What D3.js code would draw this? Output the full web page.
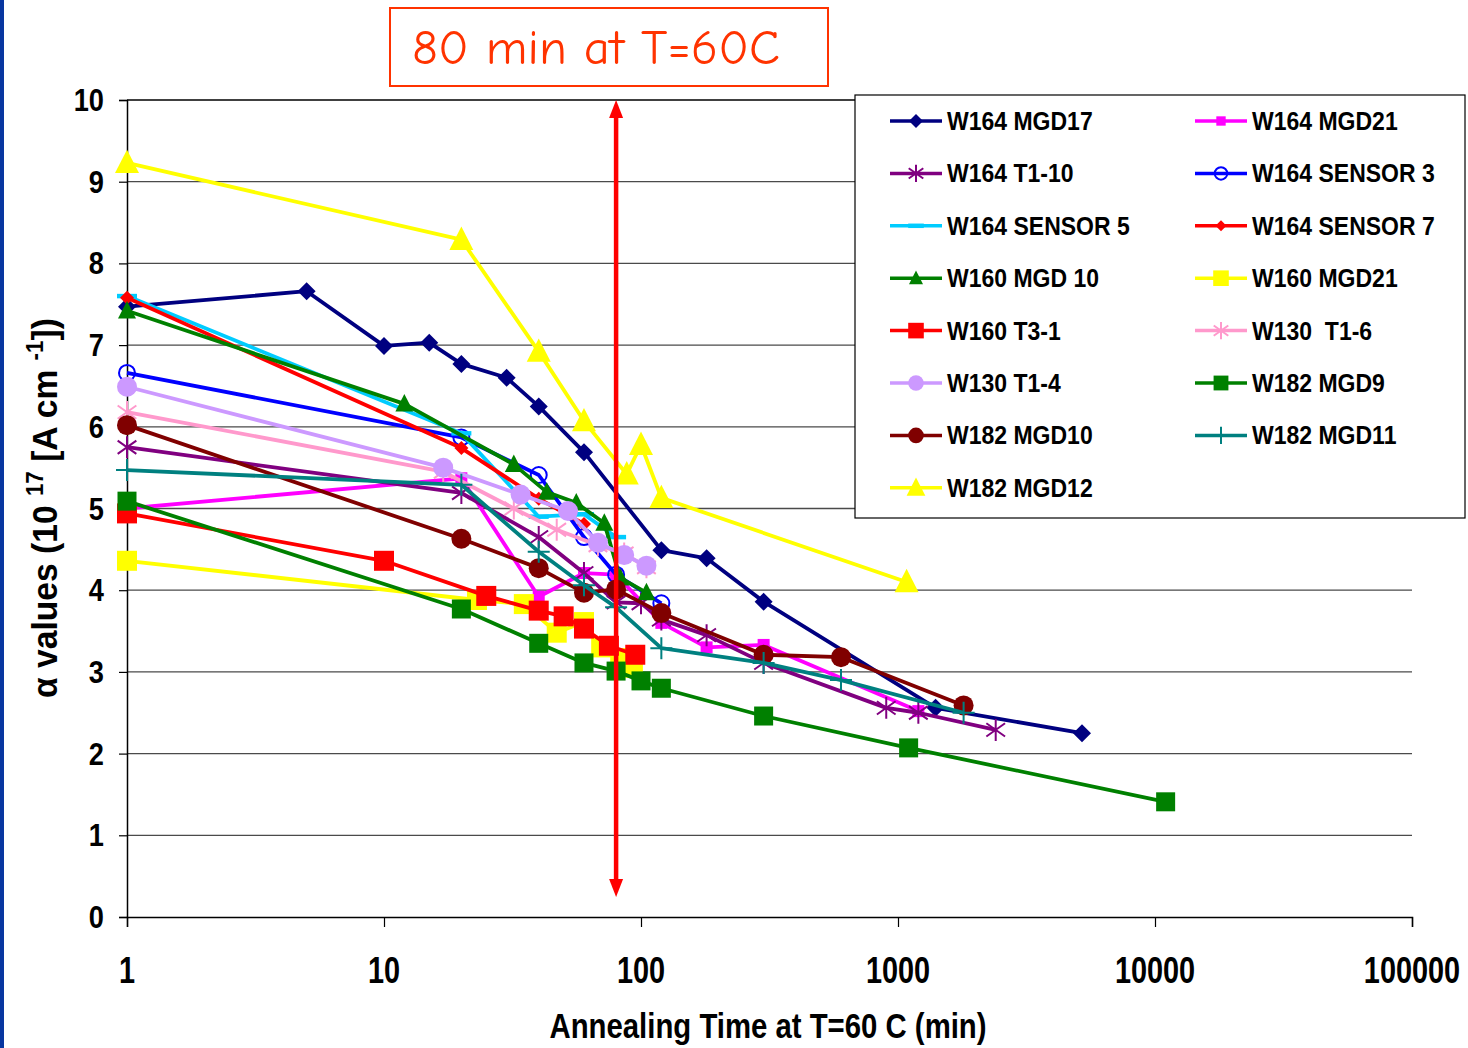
<!DOCTYPE html>
<html>
<head>
<meta charset="utf-8">
<script src="https://cdn.jsdelivr.net/npm/d3@7"></script>
<style>
  html, body { margin: 0; padding: 0; background: #fff; }
  svg { display: block; }
  text { white-space: pre; }
</style>
</head>
<body>
<svg id="chart" width="1468" height="1048"></svg>
<script>
// ---- annealing data: time (min) and alpha (1e-17 A/cm) per device ----
const seriesNames = [
  "W164 MGD17", "W164 MGD21", "W164 T1-10", "W164 SENSOR 3", "W164 SENSOR 5",
  "W164 SENSOR 7", "W160 MGD 10", "W160 MGD21", "W160 T3-1", "W130  T1-6",
  "W130 T1-4", "W182 MGD9", "W182 MGD10", "W182 MGD11", "W182 MGD12"
];

const w164mgd17Time  = [1, 5, 10, 15, 20, 30, 40, 60, 120, 180, 300, 1400, 5200];
const w164mgd17Alpha = [7.47, 7.66, 6.99, 7.03, 6.77, 6.60, 6.25, 5.69, 4.49, 4.39, 3.86, 2.56, 2.25];

const w164mgd21Time  = [1, 20, 40, 60, 80, 120, 180, 300, 1200];
const w164mgd21Alpha = [5.00, 5.37, 3.92, 4.21, 4.19, 3.60, 3.30, 3.33, 2.52];

const w164t110Time  = [1, 20, 40, 60, 80, 100, 120, 180, 300, 900, 1200, 2400];
const w164t110Alpha = [5.75, 5.19, 4.65, 4.21, 3.85, 3.84, 3.64, 3.45, 3.11, 2.56, 2.50, 2.29];

const w164s3Time  = [1, 20, 40, 60, 80, 120];
const w164s3Alpha = [6.66, 5.87, 5.41, 4.65, 4.19, 3.84];

const w164s5Time  = [1, 20, 40, 60, 80];
const w164s5Alpha = [7.60, 5.92, 4.90, 4.93, 4.65];

const w164s7Time  = [1, 20, 40, 60];
const w164s7Alpha = [7.58, 5.74, 5.12, 4.81];

const w160mgd10Time  = [1, 12, 32, 43, 56, 72, 83, 105];
const w160mgd10Alpha = [7.42, 6.28, 5.54, 5.20, 5.07, 4.82, 4.15, 3.97];

const w160mgd21Time  = [1, 23, 35, 47, 60, 70, 83, 93];
const w160mgd21Alpha = [4.36, 3.88, 3.83, 3.48, 3.61, 3.30, 3.17, 3.05];

const w160t31Time  = [1, 10, 25, 40, 50, 60, 75, 95];
const w160t31Alpha = [4.94, 4.36, 3.93, 3.75, 3.68, 3.53, 3.32, 3.21];

const w130t16Time  = [1, 17, 32, 47, 68, 86, 105];
const w130t16Alpha = [6.18, 5.45, 5.00, 4.74, 4.55, 4.45, 4.28];

const w130t14Time  = [1, 17, 34, 52, 68, 86, 105];
const w130t14Alpha = [6.49, 5.50, 5.17, 4.97, 4.58, 4.43, 4.30];

const w182mgd9Time  = [1, 20, 40, 60, 80, 100, 120, 300, 1100, 11000];
const w182mgd9Alpha = [5.09, 3.77, 3.35, 3.11, 3.01, 2.89, 2.80, 2.46, 2.07, 1.41];

const w182mgd10Time  = [1, 20, 40, 60, 80, 120, 300, 600, 1800];
const w182mgd10Alpha = [6.02, 4.63, 4.27, 3.97, 4.01, 3.72, 3.21, 3.18, 2.59];

const w182mgd11Time  = [1, 20, 40, 60, 80, 120, 300, 600, 1800];
const w182mgd11Alpha = [5.47, 5.29, 4.47, 4.06, 3.79, 3.29, 3.11, 2.90, 2.50];

const w182mgd12Time  = [1, 20, 40, 60, 88, 100, 120, 1080];
const w182mgd12Alpha = [9.23, 8.29, 6.92, 6.07, 5.42, 5.78, 5.13, 4.10];

const xTickValues = [1, 10, 100, 1000, 10000, 100000];
const yTickValues = [0, 1, 2, 3, 4, 5, 6, 7, 8, 9, 10];
const markTime = 80;                 // reference annealing step
const markLabel = "80 min at T=60C";

// ---- styling of each series (colour, marker shape, marker half-size) ----
const seriesColors  = ["#000080", "#FF00FF", "#800080", "#0000FF", "#00CCFF",
                       "#FF0000", "#008000", "#FFFF00", "#FF0000", "#FF99CC",
                       "#CC99FF", "#008000", "#800000", "#008080", "#FFFF00"];
const seriesMarkers = ["diamond", "square", "star", "ocircle", "dash",
                       "diamond", "triangle", "square", "square", "star",
                       "circle", "square", "circle", "plus", "triangle"];
const seriesSizes   = [9, 6, 11, 8, 10, 7, 9, 10, 10, 11, 10, 9.5, 10, 11, 12];

const seriesTimes  = [w164mgd17Time, w164mgd21Time, w164t110Time, w164s3Time, w164s5Time,
                      w164s7Time, w160mgd10Time, w160mgd21Time, w160t31Time, w130t16Time,
                      w130t14Time, w182mgd9Time, w182mgd10Time, w182mgd11Time, w182mgd12Time];
const seriesAlphas = [w164mgd17Alpha, w164mgd21Alpha, w164t110Alpha, w164s3Alpha, w164s5Alpha,
                      w164s7Alpha, w160mgd10Alpha, w160mgd21Alpha, w160t31Alpha, w130t16Alpha,
                      w130t14Alpha, w182mgd9Alpha, w182mgd10Alpha, w182mgd11Alpha, w182mgd12Alpha];

const series = seriesNames.map((name, i) => ({
  name,
  color: seriesColors[i],
  marker: seriesMarkers[i],
  size: seriesSizes[i],
  points: seriesTimes[i].map((t, j) => ({ t, v: seriesAlphas[i][j] }))
}));

// ---- layout ----
const svg = d3.select("#chart");
const plot = { left: 127, right: 1412, top: 100, bottom: 917 };
const FONT = "'Liberation Sans', Arial, Helvetica, sans-serif";

const x = d3.scaleLog().domain([1, 100000]).range([plot.left, plot.right]);
const y = d3.scaleLinear().domain([0, 10]).range([plot.bottom, plot.top]);

// dark slide edge
svg.append("rect").attr("x", 0).attr("y", 0).attr("width", 4).attr("height", 1048).attr("fill", "#0836A0");

// text helper: horizontally condensed bold text
function label(parent, str, px, py, size, sx, anchor, opts = {}) {
  const g = parent.append("g").attr("transform", `translate(${px},${py})`);
  const t = g.append("text")
    .attr("font-family", opts.family || FONT)
    .attr("font-weight", opts.weight || "bold")
    .attr("font-size", size)
    .attr("fill", opts.fill || "#000")
    .attr("text-anchor", anchor)
    .attr("transform", `scale(${sx},1)`)
    .text(str);
  if (opts.width) {
    const len = t.node().getComputedTextLength();
    t.attr("transform", `scale(${opts.width / len},1)`);
  }
  return g;
}

// ---- grid ----
svg.append("g").selectAll("line").data(yTickValues.filter(d => d > 0)).join("line")
  .attr("x1", plot.left).attr("x2", plot.right)
  .attr("y1", d => y(d)).attr("y2", d => y(d))
  .attr("stroke", d => d === 10 ? "#000" : "#4a4a4a").attr("stroke-width", 1.3);

// ---- axes ----
const yAxis = svg.append("g").attr("transform", `translate(${plot.left},0)`)
  .call(d3.axisLeft(y).tickValues(yTickValues).tickSize(8).tickFormat(""));
const xAxis = svg.append("g").attr("transform", `translate(0,${plot.bottom})`)
  .call(d3.axisBottom(x).tickValues(xTickValues).tickSize(10).tickFormat(""));
[yAxis, xAxis].forEach(a => {
  a.select(".domain").attr("stroke", "#000").attr("stroke-width", 1.5);
  a.selectAll(".tick line").attr("stroke", "#000").attr("stroke-width", 1.2);
});

yTickValues.forEach(v => label(svg, String(v), 104, y(v) + 11, 32, 0.85, "end"));
xTickValues.forEach(t => label(svg, d3.format("d")(t), x(t), 983, 37, 0.78, "middle"));

label(svg, "Annealing Time at T=60 C (min)", 768, 1038, 36, 0.8, "middle", { width: 437 });

// rotated y title with superscripts
{
  const g = svg.append("g").attr("transform", "translate(57,508) rotate(-90)");
  const t = g.append("text")
    .attr("font-family", FONT).attr("font-weight", "bold").attr("font-size", 36)
    .attr("text-anchor", "middle");
  t.append("tspan").text("\u03B1 values (10 ");
  t.append("tspan").attr("font-size", 24).attr("dy", -14).text("17");
  t.append("tspan").attr("dy", 14).text(" [A cm ");
  t.append("tspan").attr("font-size", 24).attr("dy", -14).text("-1");
  t.append("tspan").attr("dy", 14).text("])");
  const len = t.node().getComputedTextLength();
  t.attr("transform", `scale(${380 / len},1)`);
}

// ---- markers ----
function drawMarker(sel, type, s, color) {
  switch (type) {
    case "diamond":
      sel.append("path").attr("d", `M0,${-s}L${s},0L0,${s}L${-s},0Z`).attr("fill", color); break;
    case "square":
      sel.append("rect").attr("x", -s).attr("y", -s).attr("width", 2 * s).attr("height", 2 * s).attr("fill", color); break;
    case "triangle":
      sel.append("path").attr("d", `M0,${-s * 1.1}L${s},${s * 0.85}L${-s},${s * 0.85}Z`).attr("fill", color); break;
    case "circle":
      sel.append("circle").attr("r", s).attr("fill", color); break;
    case "ocircle":
      sel.append("circle").attr("r", s).attr("fill", "none").attr("stroke", color).attr("stroke-width", 2); break;
    case "star":
      sel.append("path")
        .attr("d", `M0,${-s}V${s}M${-s * 0.85},${-s * 0.6}L${s * 0.85},${s * 0.6}M${-s * 0.85},${s * 0.6}L${s * 0.85},${-s * 0.6}`)
        .attr("stroke", color).attr("stroke-width", 2).attr("fill", "none"); break;
    case "plus":
      sel.append("path").attr("d", `M0,${-s}V${s}M${-s},0H${s}`)
        .attr("stroke", color).attr("stroke-width", 2).attr("fill", "none"); break;
    case "dash":
      sel.append("path").attr("d", `M${-s},0H${s}`)
        .attr("stroke", color).attr("stroke-width", 4.5).attr("fill", "none"); break;
  }
}

// ---- series ----
const line = d3.line().x(d => x(d.t)).y(d => y(d.v));
const seriesG = svg.append("g");
series.forEach(s => {
  const g = seriesG.append("g");
  g.append("path").attr("d", line(s.points)).attr("fill", "none")
    .attr("stroke", s.color).attr("stroke-width", 3.8).attr("stroke-linejoin", "round");
  s.points.forEach(p => {
    const m = g.append("g").attr("transform", `translate(${x(p.t)},${y(p.v)})`);
    drawMarker(m, s.marker, s.size, s.color);
  });
});

// ---- reference time arrow ----
{
  const ax = x(markTime);
  const top = plot.top, bot = plot.bottom - 20;
  svg.append("line").attr("x1", ax).attr("x2", ax).attr("y1", top + 14).attr("y2", bot - 14)
    .attr("stroke", "#FF0000").attr("stroke-width", 4.5);
  svg.append("path").attr("d", `M${ax},${top}L${ax + 7},${top + 18}L${ax - 7},${top + 18}Z`).attr("fill", "#FF0000");
  svg.append("path").attr("d", `M${ax},${bot}L${ax + 7},${bot - 18}L${ax - 7},${bot - 18}Z`).attr("fill", "#FF0000");
}

// ---- annotation box ----
svg.append("rect").attr("x", 390).attr("y", 8).attr("width", 438).attr("height", 78)
  .attr("fill", "#fff").attr("stroke", "#FF3300").attr("stroke-width", 2);
label(svg, markLabel, 412, 64, 48, 1, "start",
  { family: "'Comic Sans MS', 'Comic Neue', 'Open Sans', sans-serif", weight: "normal", fill: "#FF3300", width: 368 });

// ---- legend ----
{
  const lg = svg.append("g");
  lg.append("rect").attr("x", 855).attr("y", 95).attr("width", 610).attr("height", 423)
    .attr("fill", "#fff").attr("stroke", "#000").attr("stroke-width", 1.2);
  const colX = [890, 1195];
  series.forEach((s, i) => {
    const cx = colX[i % 2];
    const cy = 121 + Math.floor(i / 2) * 52.4;
    lg.append("line").attr("x1", cx).attr("x2", cx + 52).attr("y1", cy).attr("y2", cy)
      .attr("stroke", s.color).attr("stroke-width", 3.5);
    const m = lg.append("g").attr("transform", `translate(${cx + 26},${cy})`);
    drawMarker(m, s.marker, s.size * 0.78, s.color);
    label(lg, s.name, cx + 57, cy + 9, 25, 0.92, "start");
  });
}
</script>
</body>
</html>
